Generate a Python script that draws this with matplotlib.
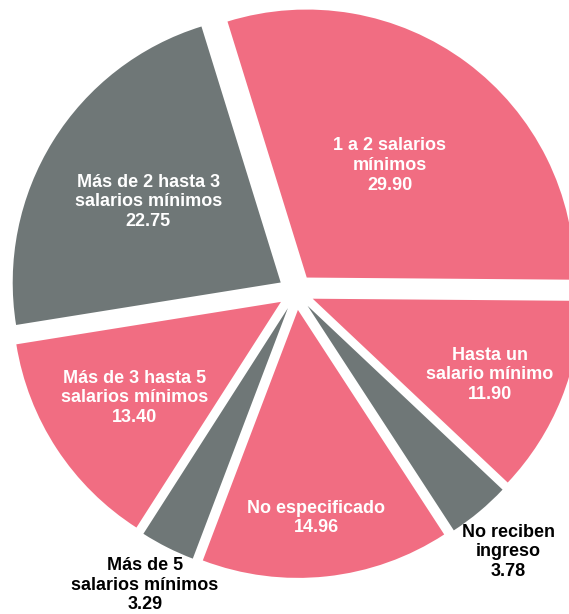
import matplotlib
matplotlib.use("Agg")
import matplotlib.pyplot as plt
import numpy as np

categories = [
    "1 a 2 salarios\nmínimos",
    "Hasta un\nsalario mínimo",
    "No reciben\ningreso",
    "No especificado",
    "Más de 5\nsalarios mínimos",
    "Más de 3 hasta 5\nsalarios mínimos",
    "Más de 2 hasta 3\nsalarios mínimos",
]
values = [29.90, 11.90, 3.78, 14.96, 3.29, 13.40, 22.75]

PINK = "#F16D82"
GRAY = "#6F7777"
colors = [PINK, PINK, GRAY, PINK, GRAY, PINK, GRAY]
label_colors = ["white", "white", "black", "white", "black", "white", "white"]
label_radius = [0.52, 0.72, 1.185, 0.78, 1.163, 0.652, 0.578]
label_angle_shift = [0.1, -1.4, -0.7, -1.1, -0.6, 0.1, 0.5]

W, H = 569, 614
DPI = 100
R_PX = 268.0
CX, CY = 296.0, 292.0
EXPLODE = 18.0 / R_PX

plt.rcParams["font.family"] = ["Liberation Sans", "DejaVu Sans"]

fig = plt.figure(figsize=(W / DPI, H / DPI), dpi=DPI)
ax = fig.add_axes([0, 0, 1, 1])

wedges, _ = ax.pie(
    values,
    colors=colors,
    startangle=107.2,
    counterclock=False,
    explode=[EXPLODE] * len(values),
    radius=1.0,
    normalize=True,
    wedgeprops=dict(linewidth=0),
)

for w, lab, v, tc, rr, da in zip(wedges, categories, values, label_colors,
                                 label_radius, label_angle_shift):
    ang = np.deg2rad((w.theta1 + w.theta2) / 2.0 + da)
    cx, cy = w.center
    x = cx + rr * np.cos(ang)
    y = cy + rr * np.sin(ang)
    ax.text(x, y, f"{lab}\n{v:.2f}", ha="center", va="center",
            color=tc, fontsize=13, fontweight="bold", linespacing=1.2)

ax.set_xlim(-CX / R_PX, (W - CX) / R_PX)
ax.set_ylim(-(H - CY) / R_PX, CY / R_PX)
ax.set_aspect("auto")
ax.axis("off")

fig.savefig("out.png", dpi=DPI)
